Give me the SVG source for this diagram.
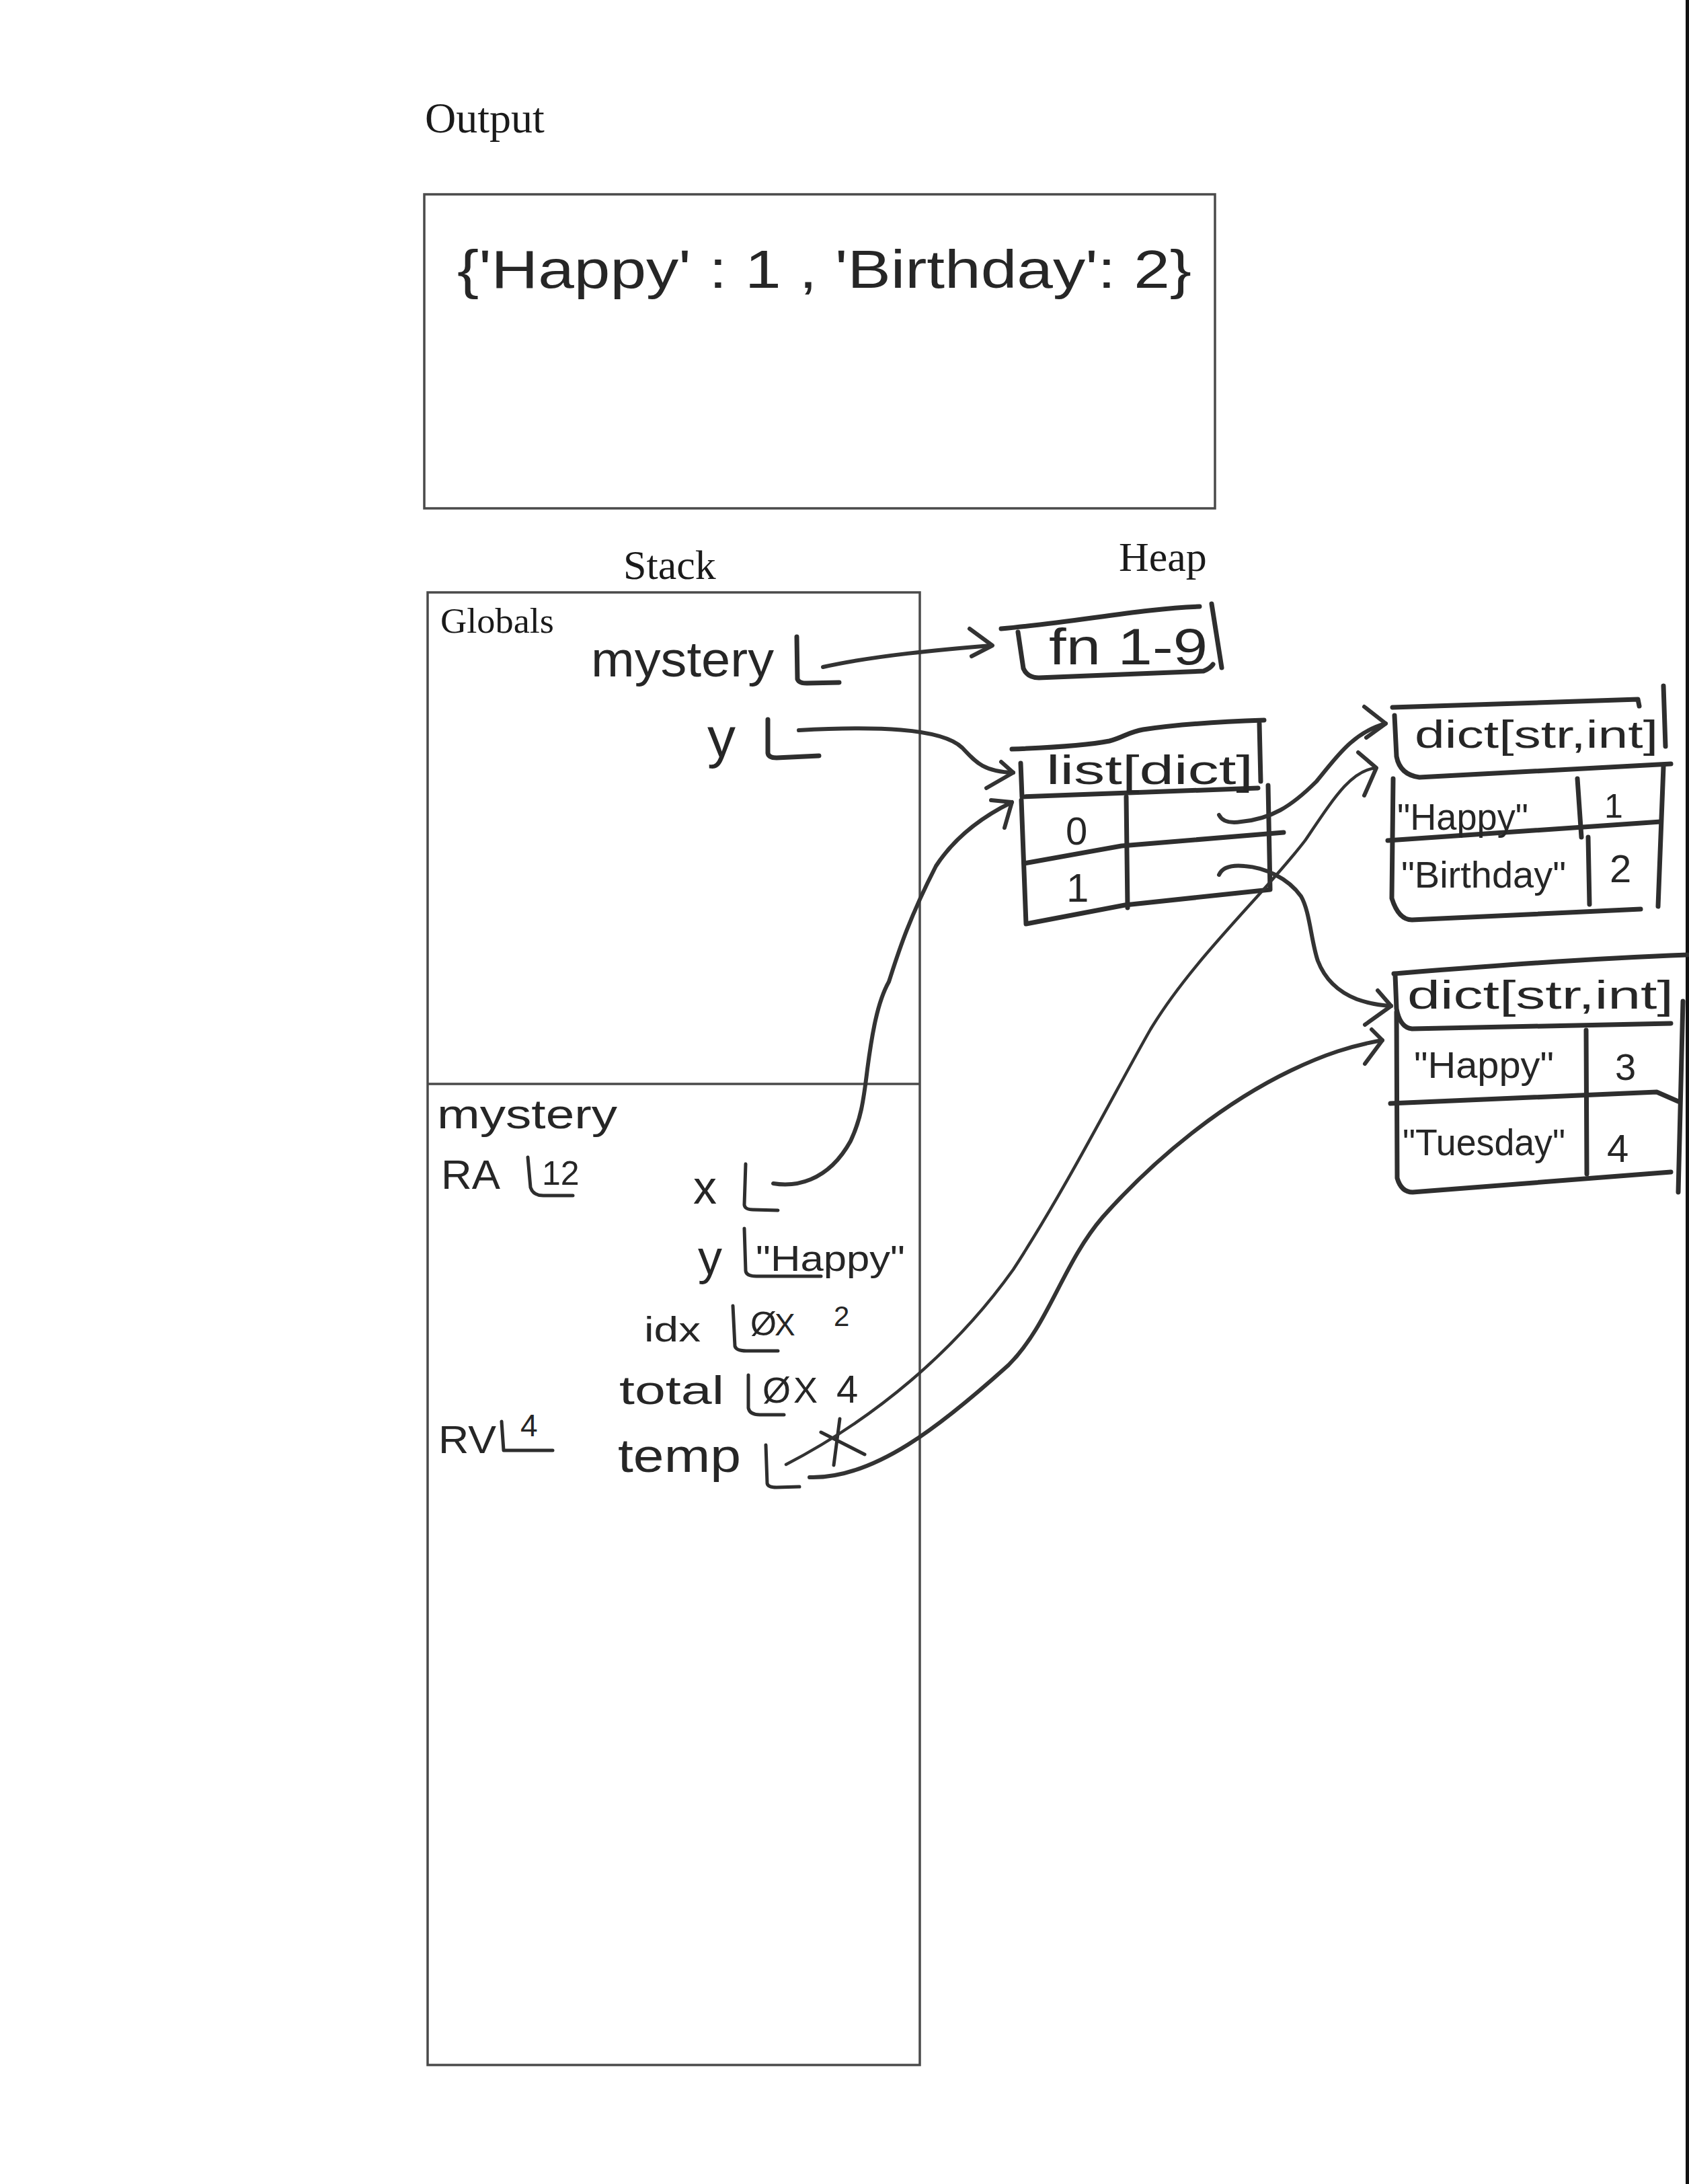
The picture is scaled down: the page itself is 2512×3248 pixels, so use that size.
<svg xmlns="http://www.w3.org/2000/svg" width="2512" height="3248" viewBox="0 0 2512 3248">
<defs>
<style>
.serif{font-family:"Liberation Serif","Times New Roman",serif;fill:#1a1a1a}
.hand{font-family:"Liberation Sans",Arial,sans-serif;fill:#262626}
.frame{fill:none;stroke:#4a4a4a;stroke-width:3.5}
.ink{fill:none;stroke:#2e2e2e;stroke-width:7;stroke-linecap:round;stroke-linejoin:round}
.inkt{fill:none;stroke:#2e2e2e;stroke-width:5;stroke-linecap:round;stroke-linejoin:round}
.arr{fill:none;stroke:#333;stroke-width:6;stroke-linecap:round;stroke-linejoin:round}
.arrt{fill:none;stroke:#333;stroke-width:4.5;stroke-linecap:round;stroke-linejoin:round}
</style>
</defs>
<rect width="2512" height="3248" fill="#ffffff"/>
<rect x="2507" y="0" width="5" height="3248" fill="#111"/>

<g id="output">
<text class="serif" x="632" y="197" font-size="64">Output</text>
<rect class="frame" x="631" y="289" width="1176" height="467"/>
<text class="hand" x="680" y="428" font-size="80" textLength="1092" lengthAdjust="spacingAndGlyphs">{'Happy' : 1 , 'Birthday': 2}</text>
</g>

<g id="labels">
<text class="serif" x="927" y="861" font-size="62">Stack</text>
<text class="serif" x="1664" y="849" font-size="62">Heap</text>
</g>

<g id="stack">
<rect class="frame" x="636" y="881" width="732" height="2190"/>
<line class="frame" x1="636" y1="1612" x2="1368" y2="1612"/>
</g>

<g id="globals-frame">
<text class="serif" x="655" y="941" font-size="52" textLength="169" lengthAdjust="spacingAndGlyphs">Globals</text>
<text class="hand" x="879" y="1006" font-size="74" textLength="272" lengthAdjust="spacingAndGlyphs">mystery</text>
<path class="ink" d="M1185,947 L1186,1010 Q1188,1016 1200,1016 L1248,1015"/>
<text class="hand" x="1052" y="1126" font-size="84">y</text>
<path class="ink" d="M1142,1070 L1142,1120 Q1143,1127 1155,1127 L1218,1124"/>
</g>

<g id="mystery-frame">
<text class="hand" x="650" y="1678" font-size="62" textLength="268" lengthAdjust="spacingAndGlyphs">mystery</text>
<text class="hand" x="656" y="1768" font-size="62" textLength="88" lengthAdjust="spacingAndGlyphs">RA</text>
<path class="inkt" d="M785,1721 L789,1766 Q793,1778 808,1778 L852,1778"/>
<text class="hand" x="806" y="1762" font-size="50">12</text>
<text class="hand" x="1031" y="1790" font-size="70">x</text>
<path class="inkt" d="M1109,1731 L1107,1792 Q1108,1799 1120,1799 L1157,1800"/>
<text class="hand" x="1038" y="1895" font-size="72">y</text>
<path class="inkt" d="M1107,1827 L1109,1890 Q1110,1898 1125,1898 L1221,1898"/>
<text class="hand" x="1124" y="1890" font-size="54" textLength="222" lengthAdjust="spacingAndGlyphs">"Happy"</text>
<text class="hand" x="958" y="1995" font-size="52" textLength="84" lengthAdjust="spacingAndGlyphs">idx</text>
<path class="inkt" d="M1090,1942 L1093,2002 Q1095,2009 1110,2009 L1157,2009"/>
<text class="hand" x="1116" y="1986" font-size="50">Ø</text>
<text class="hand" x="1152" y="1986" font-size="46">X</text>
<text class="hand" x="1240" y="1972" font-size="42">2</text>
<text class="hand" x="921" y="2088" font-size="60" textLength="156" lengthAdjust="spacingAndGlyphs">total</text>
<path class="inkt" d="M1113,2045 L1113,2094 Q1115,2104 1130,2104 L1166,2104"/>
<text class="hand" x="1134" y="2086" font-size="54">Ø</text>
<text class="hand" x="1180" y="2086" font-size="54">X</text>
<text class="hand" x="1244" y="2086" font-size="58">4</text>
<text class="hand" x="652" y="2161" font-size="58" textLength="86" lengthAdjust="spacingAndGlyphs">RV</text>
<path class="inkt" d="M746,2114 L749,2157 L822,2157"/>
<text class="hand" x="774" y="2136" font-size="46">4</text>
<text class="hand" x="919" y="2189" font-size="70" textLength="183" lengthAdjust="spacingAndGlyphs">temp</text>
<path class="inkt" d="M1139,2149 L1141,2206 Q1142,2212 1155,2212 L1189,2211"/>
<path class="inkt" d="M1221,2130 L1286,2163 M1249,2110 L1240,2179"/>
</g>

<g id="fn-obj">
<path class="ink" d="M1489,935 C1600,925 1700,905 1784,902"/>
<path class="ink" d="M1802,898 L1817,993"/>
<path class="ink" d="M1514,940 L1522,994 Q1528,1008 1545,1008 L1790,998 Q1800,994 1804,988"/>
<text class="hand" x="1560" y="988" font-size="76" textLength="236" lengthAdjust="spacingAndGlyphs">fn 1-9</text>
</g>

<g id="list-obj">
<path class="ink" d="M1505,1114 C1560,1112 1620,1108 1650,1102 C1670,1097 1680,1088 1700,1085 C1760,1076 1820,1073 1880,1071"/>
<path class="ink" d="M1873,1076 L1875,1162"/>
<path class="ink" d="M1518,1135 L1520,1185 L1871,1172"/>
<path class="ink" d="M1519,1190 L1526,1374 L1673,1346 L1889,1323 L1886,1168"/>
<path class="ink" d="M1675,1185 L1677,1350"/>
<path class="ink" d="M1523,1284 L1668,1258 L1909,1238"/>
<text class="hand" x="1556" y="1166" font-size="62" textLength="308" lengthAdjust="spacingAndGlyphs">list[dict]</text>
<text class="hand" x="1585" y="1256" font-size="58">0</text>
<text class="hand" x="1586" y="1341" font-size="60">1</text>
</g>

<g id="dict1">
<path class="ink" d="M2071,1052 C2200,1048 2330,1044 2436,1040 L2438,1050"/>
<path class="ink" d="M2474,1020 L2477,1110"/>
<path class="ink" d="M2074,1064 L2077,1125 Q2082,1152 2111,1156 L2485,1136"/>
<path class="ink" d="M2072,1158 L2070,1336 Q2080,1368 2100,1368 L2440,1352"/>
<path class="ink" d="M2474,1140 L2466,1348"/>
<path class="ink" d="M2346,1158 L2352,1245 M2362,1245 L2364,1345"/>
<path class="ink" d="M2064,1250 L2470,1222"/>
<text class="hand" x="2104" y="1112" font-size="58" textLength="362" lengthAdjust="spacingAndGlyphs">dict[str,int]</text>
<text class="hand" x="2078" y="1234" font-size="55" textLength="195" lengthAdjust="spacingAndGlyphs">"Happy"</text>
<text class="hand" x="2386" y="1216" font-size="50">1</text>
<text class="hand" x="2084" y="1320" font-size="56" textLength="245" lengthAdjust="spacingAndGlyphs">"Birthday"</text>
<text class="hand" x="2394" y="1312" font-size="58">2</text>
</g>

<g id="dict2">
<path class="ink" d="M2073,1448 C2200,1438 2350,1426 2510,1420"/>
<path class="ink" d="M2075,1450 L2077,1500 Q2082,1528 2100,1530 L2485,1522"/>
<path class="ink" d="M2077,1505 L2078,1752 Q2084,1773 2101,1773 L2485,1743"/>
<path class="ink" d="M2359,1532 L2360,1746"/>
<path class="ink" d="M2068,1641 L2464,1624 L2496,1638"/>
<path class="ink" d="M2503,1489 L2496,1773"/>
<text class="hand" x="2093" y="1500" font-size="60" textLength="396" lengthAdjust="spacingAndGlyphs">dict[str,int]</text>
<text class="hand" x="2103" y="1603" font-size="56" textLength="208" lengthAdjust="spacingAndGlyphs">"Happy"</text>
<text class="hand" x="2402" y="1606" font-size="56">3</text>
<text class="hand" x="2086" y="1718" font-size="56" textLength="242" lengthAdjust="spacingAndGlyphs">"Tuesday"</text>
<text class="hand" x="2390" y="1728" font-size="58">4</text>
</g>

<g id="connectors">
<path class="arr" d="M1224,992 C1300,975 1400,966 1474,960"/>
<path class="arr" d="M1442,935 L1476,960 L1445,976"/>
<path class="arr" d="M1188,1086 C1300,1080 1400,1082 1431,1112 C1450,1132 1462,1148 1507,1149"/>
<path class="arr" d="M1489,1133 L1507,1149 L1467,1172"/>
<path class="arr" d="M1150,1760 C1180,1765 1230,1760 1265,1697 C1280,1665 1284,1640 1290,1590 C1297,1537 1305,1490 1322,1460 C1335,1420 1350,1370 1392,1288 C1420,1245 1460,1215 1505,1193"/>
<path class="arr" d="M1474,1190 L1505,1193 L1494,1231"/>
<path class="arr" d="M1813,1212 Q1820,1226 1846,1222 C1890,1218 1920,1200 1958,1162 C1985,1130 2010,1090 2061,1076"/>
<path class="arr" d="M2029,1051 L2061,1076 L2032,1097"/>
<path class="arr" d="M1813,1301 Q1820,1285 1851,1288 C1880,1290 1915,1305 1935,1333 C1948,1355 1950,1400 1960,1429 C1970,1455 1990,1475 2018,1486 C2035,1492 2050,1495 2069,1496"/>
<path class="arr" d="M2049,1473 L2069,1496 L2030,1524"/>
<path class="arrt" d="M1169,2178 C1300,2110 1420,2010 1507,1888 C1590,1760 1660,1620 1711,1531 C1775,1425 1880,1330 1941,1250 C1985,1185 2010,1145 2047,1142"/>
<path class="arr" d="M2020,1119 L2047,1142 L2029,1183"/>
<path class="arr" d="M1204,2197 C1300,2200 1400,2120 1500,2030 C1560,1970 1580,1880 1640,1810 C1720,1720 1820,1640 1920,1592 C1970,1568 2010,1555 2056,1547"/>
<path class="arr" d="M2040,1531 L2056,1547 L2030,1582"/>
</g>
</svg>
